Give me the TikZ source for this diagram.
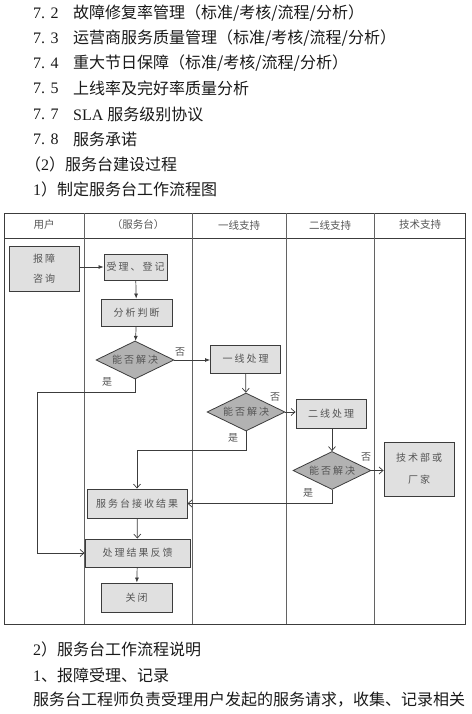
\documentclass[tikz,border=0pt]{standalone}
\usepackage{fontspec}
\setmainfont{Liberation Serif}
\newfontfamily\cjk{Noto Sans CJK SC}
\newfontfamily\cjkbox[LetterSpace=20]{Noto Sans CJK SC}
\usetikzlibrary{arrows.meta,positioning,shapes.geometric}

\definecolor{boxgray}{RGB}{224,224,224}
\definecolor{dgray}{RGB}{178,178,178}
\definecolor{txtgray}{RGB}{85,85,85}
\definecolor{linegray}{RGB}{60,60,60}

\tikzset{
  procbox/.style={draw=linegray,line width=0.9pt,fill=boxgray,inner sep=0pt,align=center,font=\fontsize{10}{20}\cjkbox,text=txtgray},
  yesno/.style={draw=linegray,line width=0.8pt,fill=dgray,shape=diamond,aspect=2,inner sep=0pt,minimum width=78pt,minimum height=38pt,font=\fontsize{10}{12}\cjkbox,text=txtgray},
  hdr/.style={font=\fontsize{10.5}{12}\cjk,text=txtgray},
  lbl/.style={font=\fontsize{10}{12}\cjk,text=txtgray},
  para/.style={anchor=west,inner sep=0pt,font=\fontsize{16}{18}\selectfont,text=black!90},
  fa/.style={draw=linegray,line width=0.7pt,-{Latex[length=5pt,width=4pt]}},
  oa/.style={draw=linegray,line width=0.7pt,-{Straight Barb[length=4pt,width=7pt]}}
}

\begin{document}
\begin{tikzpicture}[x=1pt,y=-1pt]
\useasboundingbox (0,0) rectangle (471,714);

% text above
\node[para] (n72) at (33,13) {7. 2};
\node[para] (t72) at (73,13) {\cjk 故障修复率管理（标准/考核/流程/分析）};
\node[para] (n73) at (33,38) {7. 3};
\node[para] (t73) at (73,38) {\cjk 运营商服务质量管理（标准/考核/流程/分析）};
\node[para] (n74) at (33,63) {7. 4};
\node[para] (t74) at (73,63) {\cjk 重大节日保障（标准/考核/流程/分析）};
\node[para] (n75) at (33,88) {7. 5};
\node[para] (t75) at (73,88) {\cjk 上线率及完好率质量分析};
\node[para] (n77) at (33,114) {7. 7};
\node[para] (t77) at (73,114) {SLA {\cjk 服务级别协议}};
\node[para] (n78) at (33,139) {7. 8};
\node[para] (t78) at (73,139) {\cjk 服务承诺};
\node[para] (s2) at (25,164) {{\cjk （}2{\cjk ）服务台建设过程}};
\node[para] (s21) at (33,189) {1{\cjk ）制定服务台工作流程图}};

% swim lanes
\draw[linegray,line width=1pt] (4,213) rectangle (465,624);
\draw[linegray,line width=1pt] (4,238) -- (465,238);
\foreach \lx in {84,192,286,374}
  \draw[linegray!80,line width=1pt] (\lx,213) -- (\lx,624);
\node[hdr] (h1) at (44,225) {用户};
\node[hdr] (h2) at (138,225) {（服务台）};
\node[hdr] (h3) at (239,225) {一线支持};
\node[hdr] (h4) at (330,225) {二线支持};
\node[hdr] (h5) at (420,225) {技术支持};

% flow
\node[procbox,minimum width=70pt,minimum height=45pt] (bz) at (44,268.5) {报障\\咨询};
\node[procbox,minimum width=63pt,minimum height=26pt] (sl) at (135.5,267) {受理、登记};
\node[procbox,minimum width=71pt,minimum height=27pt] (fx) at (136.5,312.5) {分析判断};
\node[yesno] (d1) at (135,360) {能否解决};
\node[procbox,minimum width=70pt,minimum height=28pt] (yx) at (245.5,359) {一线处理};
\node[yesno] (d2) at (246,412) {能否解决};
\node[procbox,minimum width=70pt,minimum height=29pt] (ex) at (331,413.5) {二线处理};
\node[yesno] (d3) at (332,470.5) {能否解决};
\node[procbox,minimum width=70pt,minimum height=54pt,font=\fontsize{10}{22}\cjkbox] (js) at (419,469) {技术部或\\厂家};
\node[procbox,minimum width=100pt,minimum height=29pt] (rc) at (137,503.5) {服务台接收结果};
\node[procbox,minimum width=105pt,minimum height=28pt] (fb) at (137.5,553) {处理结果反馈};
\node[procbox,minimum width=71pt,minimum height=29pt] (gb) at (136.5,597.5) {关闭};

\coordinate (t1) at (37,392);

\draw[fa] (bz.east |- sl.west) -- (sl.west);
\draw[fa] (sl) -- (fx);
\draw[fa] (fx) -- (d1);
\draw[fa] (d1.east) -- (d1.east -| yx.west);
\draw[oa] (d1.south) |- (t1) |- (fb.west);
\draw[oa] (yx) -- (d2);
\draw[oa] (d2.east) -- (d2.east -| ex.west);
\draw[oa] (d2.south) -- ++(0,19) -| (rc.north);
\draw[oa] (ex.south -| d3.north) -- (d3.north);
\draw[oa] (d3.east) -- (d3.east -| js.west);
\draw[oa] (d3.south) |- (rc.east);
\draw[oa] (rc) -- (fb);
\draw[fa] (fb) -- (gb);

\node[lbl] (no1) at (180,352) {否};
\node[lbl] (ye1) at (107,382) {是};
\node[lbl] (no2) at (275,397) {否};
\node[lbl] (ye2) at (233,438) {是};
\node[lbl] (no3) at (366,457) {否};
\node[lbl] (ye3) at (308,493) {是};

% text below
\node[para] (s22) at (33,649) {2{\cjk ）服务台工作流程说明}};
\node[para] (s23) at (33,675) {1{\cjk 、报障受理、记录}};
\node[para] (s24) at (33,700) {\cjk 服务台工程师负责受理用户发起的服务请求，收集、记录相关};
\end{tikzpicture}
\end{document}
